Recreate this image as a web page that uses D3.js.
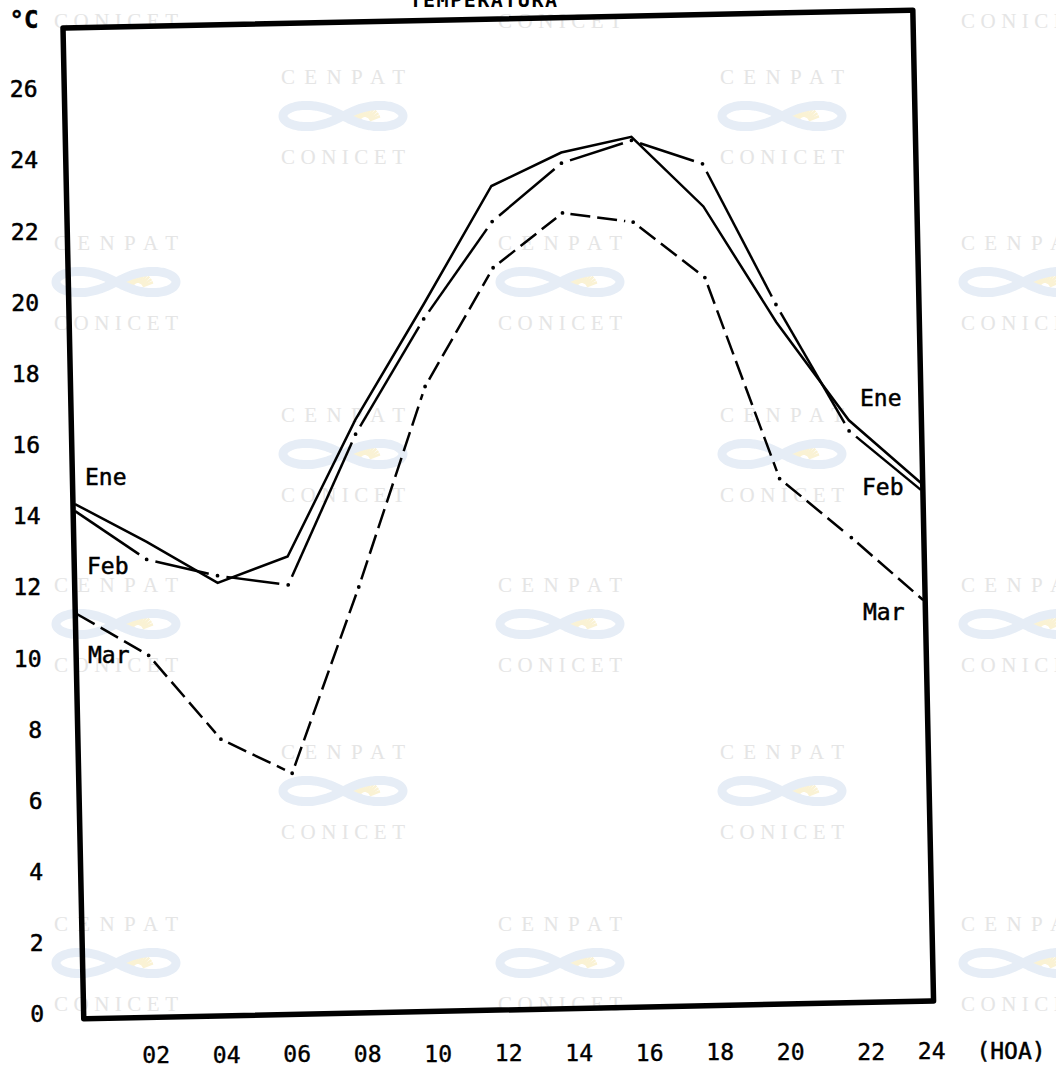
<!DOCTYPE html>
<html><head><meta charset="utf-8">
<script src="https://cdn.jsdelivr.net/npm/d3@7"></script>
<style>
html,body{margin:0;padding:0;background:#fff;}
svg{display:block;}
</style></head>
<body>
<svg id="chart" width="1056" height="1069"></svg>
<script>
// ---- data (hourly mean temperature, °C) ----
const hours = [0, 2, 4, 6, 8, 10, 12, 14, 16, 18, 20, 22, 24];
const ene = [14.3, 13.2, 12.0, 12.7, 16.5, 19.7, 23.0, 23.9, 24.3, 22.3, 19.0, 16.2, 14.4];
const feb = [14.1, 12.7, 12.2, 11.9, 16.1, 19.3, 22.0, 23.6, 24.2, 23.5, 19.5, 15.9, 14.2];
const mar = [11.2, 10.0, 7.6, 6.6, 11.8, 17.4, 20.7, 22.2, 21.9, 20.3, 14.6, 12.9, 11.1];
const seriesNames = ["Ene", "Feb", "Mar"];
const yTicks = [0, 2, 4, 6, 8, 10, 12, 14, 16, 18, 20, 22, 24, 26];
const xTicks = [2, 4, 6, 8, 10, 12, 14, 16, 18, 20, 22, 24];
const title = "TEMPERATURA";
const yUnit = "\u00B0C";
const xUnit = "(HOA)";
const wmTop = "CENPAT", wmBottom = "CONICET";

const svg = d3.select("#chart");
const FONT = "'DejaVu Sans Mono', monospace";

// ---- watermark (faint scan stamp) ----
const wmUnits = [
  [116,-59],[116,243],[116,585],[116,924],
  [560,-59],[560,243],[560,585],[560,924],
  [1023,-59],[1023,243],[1023,585],[1023,924],
  [343,77],[343,415],[343,752],
  [782,77],[782,415],[782,752]
];
const wm = svg.append("g");
const lem = d3.range(0, 2*Math.PI+0.01, 0.05).map(t => {
  const s = Math.sin(t), c = Math.cos(t), den = 1 + s*s;
  return [60*c/den, 30*s*c/den];
});
wmUnits.forEach(([cx, cy]) => {
  const u = wm.append("g").attr("transform", `translate(${cx},${cy})`);
  if (cy > 0) {
    u.append("text").attr("x", -62).attr("y", 7).attr("textLength", 124)
      .attr("lengthAdjust", "spacing").attr("font-family", "'Liberation Serif', serif")
      .attr("font-size", 21).attr("fill", "#e5e5e5").text(wmTop);
  }
  const lg = u.append("g").attr("transform", "translate(0,39)");
  d3.range(-165, -10, 12).forEach(a => {
    const r = a*Math.PI/180;
    lg.append("line").attr("x1", 22+5*Math.cos(r)).attr("y1", 6+5*Math.sin(r))
      .attr("x2", 22+16*Math.cos(r)).attr("y2", 6+16*Math.sin(r))
      .attr("stroke", "#faf2d4").attr("stroke-width", 2.5);
  });
  lg.append("path").attr("d", d3.line().curve(d3.curveCatmullRomClosed)(lem))
    .attr("fill", "none").attr("stroke", "#e6edf6").attr("stroke-width", 9);
  u.append("text").attr("x", -62).attr("y", 87).attr("textLength", 124)
    .attr("lengthAdjust", "spacing").attr("font-family", "'Liberation Serif', serif")
    .attr("font-size", 21).attr("fill", "#e5e5e5").text(wmBottom);
});

// ---- plot frame (slightly rotated, as in the scan) ----
const ox = 63, oy = 28, fw = 850, fh = 991, angle = -1.2;
const g = svg.append("g").attr("transform", `translate(${ox},${oy}) rotate(${angle})`);
const x = d3.scaleLinear().domain([0, 24]).range([2, 848]);
const y = d3.scaleLinear().domain([0, 26]).range([984.5, 60.3]);

const line = d3.line().x((d, i) => x(hours[i])).y(d => y(d));

// Ene: solid
g.append("path").attr("d", line(ene)).attr("fill", "none")
  .attr("stroke", "#000").attr("stroke-width", 2.5).attr("stroke-linejoin", "miter");

// broken lines with a dot at every vertex
function broken(values, dash, gap) {
  const pts = hours.map((h, i) => [x(h), y(values[i])]);
  const seg = d3.line();
  for (let i = 0; i < pts.length - 1; i++) {
    const [x1, y1] = pts[i], [x2, y2] = pts[i+1];
    const L = Math.hypot(x2-x1, y2-y1), ux = (x2-x1)/L, uy = (y2-y1)/L;
    const s = i === 0 ? 0 : gap, e = i === pts.length-2 ? 0 : gap;
    g.append("path").attr("d", seg([[x1+ux*s, y1+uy*s], [x2-ux*e, y2-uy*e]]))
      .attr("fill", "none").attr("stroke", "#000").attr("stroke-width", 2.5)
      .attr("stroke-dasharray", dash);
  }
  g.selectAll(null).data(pts.slice(1, -1)).enter().append("circle")
    .attr("cx", d => d[0]).attr("cy", d => d[1]).attr("r", 1.9).attr("fill", "#000");
}
broken(feb, null, 9);
broken(mar, "20 7", 8);

g.append("rect").attr("x", 0).attr("y", 0).attr("width", fw).attr("height", fh)
  .attr("fill", "none").attr("stroke", "#000").attr("stroke-width", 5.5)
  .attr("stroke-linejoin", "round");

// ---- axes (labels printed separately, nearly upright) ----
const yS = d3.scaleLinear().domain([0, 26]).range([1014, 89]);
const ya = svg.append("g").attr("transform", "translate(44,0)")
  .call(d3.axisLeft(yS).tickValues(yTicks).tickSize(0).tickPadding(0).tickFormat(d3.format("d")));
ya.select(".domain").remove();
ya.selectAll(".tick").attr("transform", d => `translate(${-6.5*d/26},${yS(d)})`);
ya.selectAll("text").attr("font-family", FONT).attr("font-size", 23).attr("fill", "#000")
  .attr("stroke", "#000").attr("stroke-width", 0.5).attr("dy", "0.36em");

const xS = d3.scaleLinear().domain([0, 24]).range([85.7, 931.7]);
const xa = svg.append("g").attr("transform", "translate(0,1055)")
  .call(d3.axisBottom(xS).tickValues(xTicks).tickSize(0).tickPadding(0).tickFormat(d3.format("02d")));
xa.select(".domain").remove();
xa.selectAll(".tick").attr("transform", d => `translate(${xS(d) + (d === 22 ? 10 : 0)},${-4*d/24})`);
xa.selectAll("text").attr("font-family", FONT).attr("font-size", 23).attr("fill", "#000")
  .attr("stroke", "#000").attr("stroke-width", 0.4).attr("y", 0).attr("dy", "0.36em");

function label(txt, px, py, anchor, size, extra) {
  const t = svg.append("text").attr("x", px).attr("y", py).attr("text-anchor", anchor || "start")
    .attr("dominant-baseline", "central").attr("font-family", FONT).attr("font-size", size || 23)
    .attr("fill", "#000").attr("stroke", "#000").attr("stroke-width", 0.5).text(txt);
  if (extra) extra(t);
  return t;
}
label(yUnit, 24, 20, "middle", 24, t => t.attr("font-weight", "bold"));
label(xUnit, 1011, 1051, "middle", 23);
svg.append("text").attr("x", 484).attr("y", 7).attr("text-anchor", "middle")
  .attr("font-family", FONT).attr("font-size", 20).attr("font-weight", "bold")
  .attr("letter-spacing", 1.5).attr("fill", "#000").text(title);

// series labels at both ends
label(seriesNames[0], 85, 477); label(seriesNames[1], 87, 566); label(seriesNames[2], 88, 655);
label(seriesNames[0], 860, 398); label(seriesNames[1], 862, 487); label(seriesNames[2], 863, 612);
</script>
</body></html>
